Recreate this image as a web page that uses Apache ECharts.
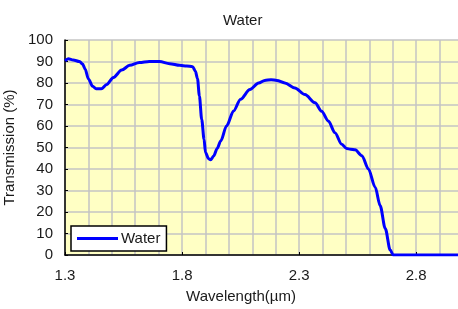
<!DOCTYPE html>
<html>
<head>
<meta charset="utf-8">
<script src="https://cdn.jsdelivr.net/npm/echarts@6/dist/echarts.min.js"></script>
<style>
  html, body { margin: 0; padding: 0; background: #fff; }
  #chart { width: 458px; height: 309px; }
</style>
</head>
<body>
<div id="chart"></div>
<script>
// wavelength (um) and transmission (%)
var wavelength = [1.30, 1.314, 1.335, 1.362, 1.375, 1.386, 1.40, 1.418, 1.433, 1.455, 1.478, 1.507, 1.542, 1.576,
    1.618, 1.66, 1.704, 1.747, 1.79, 1.82, 1.845, 1.857, 1.866, 1.874, 1.884, 1.894, 1.90, 1.913, 1.922, 1.935,
    1.95, 1.965, 1.99, 2.02, 2.05, 2.09, 2.127, 2.153, 2.18, 2.205, 2.239, 2.282, 2.325, 2.368, 2.396, 2.425,
    2.453, 2.482, 2.503, 2.52, 2.539, 2.568, 2.596, 2.625, 2.646, 2.668, 2.689, 2.702, 2.80, 2.90, 3.0];
var transmission = [90.3, 91.3, 90.7, 90.0, 88.8, 86.5, 81.9, 78.5, 77.3, 77.3, 79.3, 82.6, 86.0, 88.2,
    89.5, 90.0, 90.0, 89.0, 88.2, 87.9, 87.6, 85.5, 82, 74, 63, 53.8, 47.7, 44.8, 44.3, 46,
    49.5, 53, 60, 67, 72.5, 77, 80, 81.2, 81.5, 81.2, 80, 77.7, 74.6, 70.8, 66.9, 62.3,
    56.9, 51.5, 49.5, 49.2, 48.9, 46.2, 40, 31.5, 23, 12.3, 2.3, 0, 0, 0, 0];
var xTickLabels = [1.3, 1.8, 2.3, 2.8];
var seriesName = 'Water';

var points = wavelength.map(function (w, i) { return [w, transmission[i]]; });
var font = 'Liberation Sans, Arial, sans-serif';
var gridColor = '#c4c4c4';

var myChart = echarts.init(document.getElementById('chart'));
myChart.setOption({
    animation: false,
    title: {
        text: 'Water',
        left: 218,
        top: 8,
        textStyle: { fontFamily: font, fontSize: 15, fontWeight: 'normal', color: '#1a1a1a' }
    },
    legend: {
        left: 71,
        top: 226,
        padding: [5, 6, 5, 6],
        backgroundColor: '#fff',
        borderColor: '#000',
        borderWidth: 1.5,
        icon: 'rect',
        itemWidth: 41,
        itemHeight: 3,
        itemGap: 4,
        textStyle: { fontFamily: font, fontSize: 15, color: '#1a1a1a', padding: [0, 0, 0, -2] },
        data: [seriesName]
    },
    grid: {
        left: 65,
        top: 40,
        right: -5,
        bottom: 54,
        show: true,
        backgroundColor: '#ffffc4',
        borderWidth: 0,
        outerBoundsMode: 'none'
    },
    xAxis: {
        type: 'value',
        min: 1.3,
        max: 3.0,
        interval: 0.5,
        name: 'Wavelength(µm)',
        nameLocation: 'middle',
        nameGap: 34,
        nameTextStyle: { fontFamily: font, fontSize: 15, color: '#1a1a1a', padding: [0, 46, 0, 0] },
        axisLine: { lineStyle: { color: '#000', width: 1.5 } },
        axisTick: { show: true, inside: true, length: 3, customValues: xTickLabels, lineStyle: { color: '#000' } },
        minorTick: { show: false, splitNumber: 5 },
        axisLabel: {
            customValues: xTickLabels,
            margin: 13,
            fontFamily: font, fontSize: 15, color: '#1a1a1a',
            formatter: function (v) { return v.toFixed(1); }
        },
        splitLine: { show: true, lineStyle: { color: gridColor, width: 1.5 } },
        minorSplitLine: { show: true, lineStyle: { color: gridColor, width: 1.5 } }
    },
    yAxis: {
        type: 'value',
        min: 0,
        max: 100,
        interval: 10,
        name: 'Transmission (%)',
        nameLocation: 'middle',
        nameGap: 33,
        nameTextStyle: { fontFamily: font, fontSize: 15, color: '#1a1a1a' },
        axisLine: { show: true, lineStyle: { color: '#000', width: 1.5 } },
        axisTick: { show: true, inside: true, length: 3, lineStyle: { color: '#000' } },
        axisLabel: { margin: 12, fontFamily: font, fontSize: 15, color: '#1a1a1a' },
        splitLine: { show: true, lineStyle: { color: gridColor, width: 1.5 } }
    },
    series: [{
        name: seriesName,
        type: 'line',
        data: points,
        symbol: 'none',
        smooth: 0.3,
        smoothMonotone: 'x',
        lineStyle: { color: '#0000ff', width: 3 },
        itemStyle: { color: '#0000ff' }
    }]
});
</script>
</body>
</html>
